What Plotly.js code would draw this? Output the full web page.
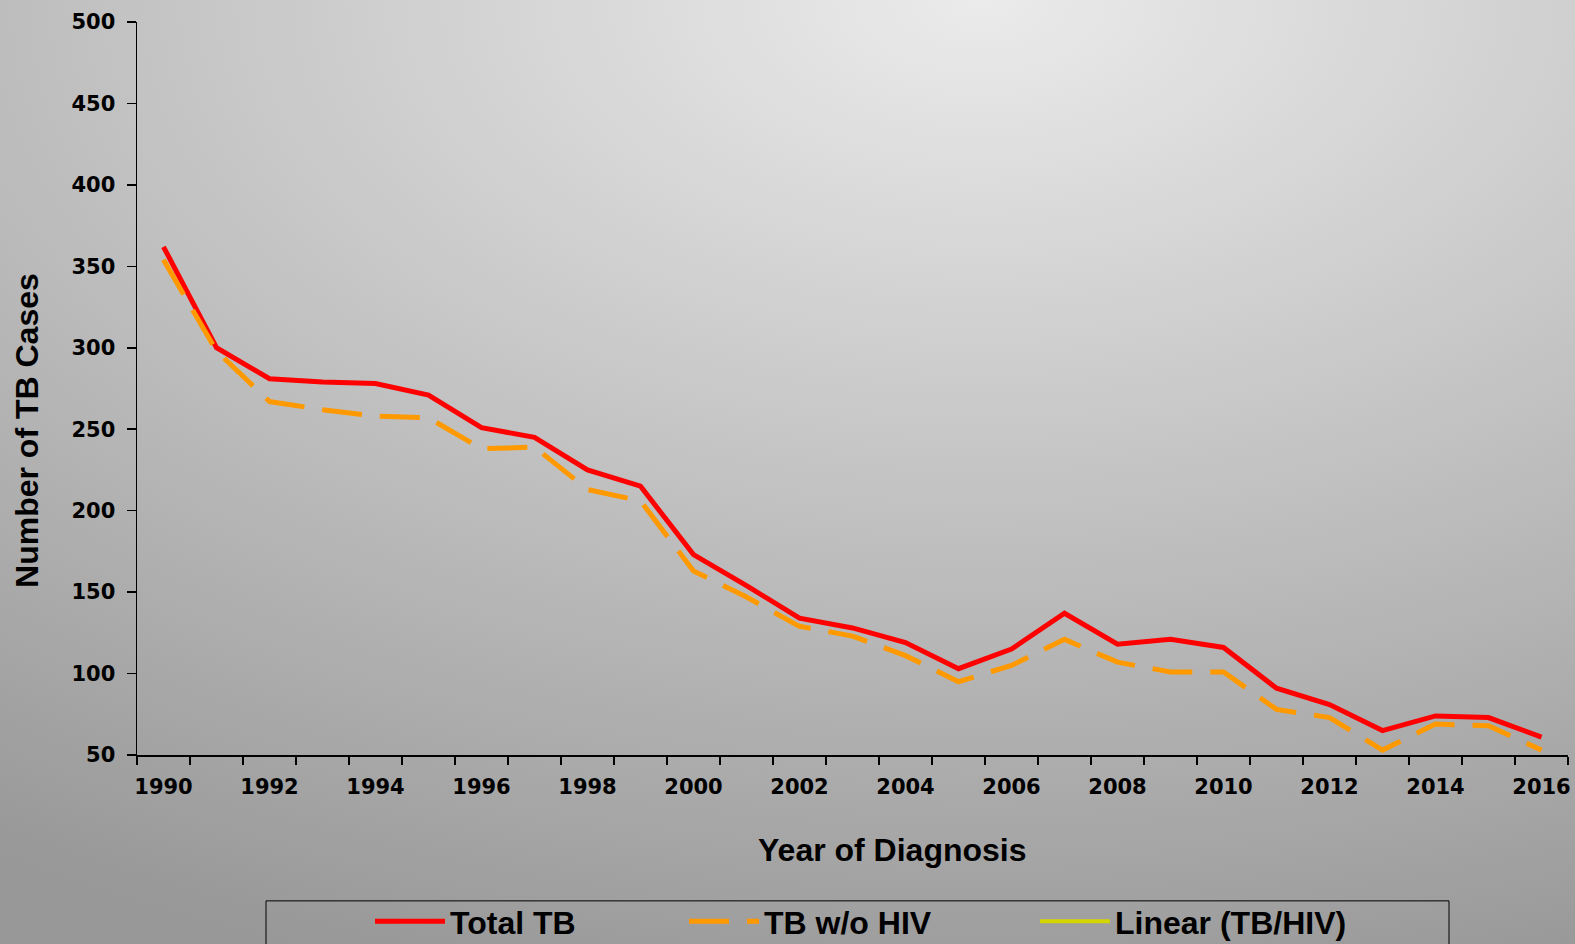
<!DOCTYPE html>
<html>
<head>
<meta charset="utf-8">
<script src="https://cdn.plot.ly/plotly-3.0.1.min.js"></script>
<style>
html, body { margin:0; padding:0; }
body {
  width:1575px; height:944px; overflow:hidden;
  background: radial-gradient(1775px 1020px at 980px 0px, #ebebeb 0%, #989898 100%);
}
#chart { width:1575px; height:944px; }
</style>
</head>
<body>
<div id="chart"></div>
<script>
const years = [1990,1991,1992,1993,1994,1995,1996,1997,1998,1999,2000,2001,2002,2003,2004,2005,2006,2007,2008,2009,2010,2011,2012,2013,2014,2015,2016];
const totalTB = [362,300,281,279,278,271,251,245,225,215,173,154,134,128,119,103,115,137,118,121,116,91,81,65,74,73,61];
const tbNoHIV = [354,298,267,262,258,257,238,239,213,206,163,147,129,123,111,95,105,121,107,101,101,78,73,53,69,68,53];
const tbHIVTrend = years.map(() => null);
const yTicks = [50,100,150,200,250,300,350,400,450,500];
const xTicks = [1990,1992,1994,1996,1998,2000,2002,2004,2006,2008,2010,2012,2014,2016];
const xTitle = 'Year of Diagnosis';
const yTitle = 'Number of TB Cases';

const traces = [
  {x: years, y: totalTB, name: 'Total TB', type: 'scatter', mode: 'lines', legend: 'legend',
   line: {color: '#ff0000', width: 5}},
  {x: years, y: tbNoHIV, name: 'TB w/o HIV', type: 'scatter', mode: 'lines', legend: 'legend2',
   line: {color: '#ff9900', width: 5, dash: '40px,18px'}},
  {x: years, y: tbHIVTrend, name: 'Linear (TB/HIV)', type: 'scatter', mode: 'lines', legend: 'legend3',
   line: {color: '#d4d400', width: 4}}
];

const titleFont = {family: 'Liberation Sans, Arial', size: 32, color: '#000', weight: 'bold'};
const px2x = p => (p - 137) / 1431;
function legendAt(px) {
  return {
    orientation: 'h', xref: 'paper', yref: 'paper', x: px2x(px), xanchor: 'left',
    y: -0.1895, yanchor: 'top',
    bgcolor: 'rgba(0,0,0,0)', borderwidth: 0,
    font: {family: 'Liberation Sans, Arial', size: 32, color: '#000', weight: 'bold'},
    itemwidth: 70
  };
}

const layout = {
  width: 1575, height: 944,
  paper_bgcolor: 'rgba(0,0,0,0)', plot_bgcolor: 'rgba(0,0,0,0)',
  margin: {l: 137, r: 7, t: 22, b: 189, autoexpand: false},
  showlegend: true,
  xaxis: {
    range: [1989.5, 2016.5], tickvals: xTicks, ticktext: xTicks.map(String),
    ticks: 'outside', ticklen: 12, tickcolor: 'rgba(0,0,0,0)',
    minor: {tick0: 1989.5, dtick: 1, ticks: 'outside', ticklen: 8, tickcolor: '#000', tickwidth: 1.5},
    showline: true, linecolor: '#000', linewidth: 1.5, showgrid: false, zeroline: false,
    tickfont: {family: 'DejaVu Sans', size: 21, color: '#000', weight: 'bold'},
    automargin: false
  },
  yaxis: {
    range: [50, 500], tickvals: yTicks, ticks: 'outside', ticklen: 9, tickcolor: '#000', tickwidth: 1.5,
    ticklabelstandoff: 7,
    showline: true, linecolor: '#000', linewidth: 1.5, showgrid: false, zeroline: false,
    tickfont: {family: 'DejaVu Sans', size: 21, color: '#000', weight: 'bold'},
    automargin: false
  },
  annotations: [
    {text: xTitle, xref: 'paper', yref: 'paper', x: 0.528, y: -0.1296,
     xanchor: 'center', yanchor: 'middle', showarrow: false, font: titleFont},
    {text: yTitle, xref: 'paper', yref: 'paper', x: -0.0769, y: 0.4434, textangle: -90,
     xanchor: 'center', yanchor: 'middle', showarrow: false, font: titleFont}
  ],
  shapes: [
    {type: 'rect', xref: 'paper', yref: 'paper', x0: px2x(266), x1: px2x(1449),
     y0: -0.199, y1: -0.4, line: {color: '#000', width: 1}, fillcolor: 'rgba(0,0,0,0)'}
  ],
  legend: legendAt(370),
  legend2: legendAt(684),
  legend3: legendAt(1035)
};

Plotly.newPlot('chart', traces, layout, {displayModeBar: false, staticPlot: true});
</script>
</body>
</html>
